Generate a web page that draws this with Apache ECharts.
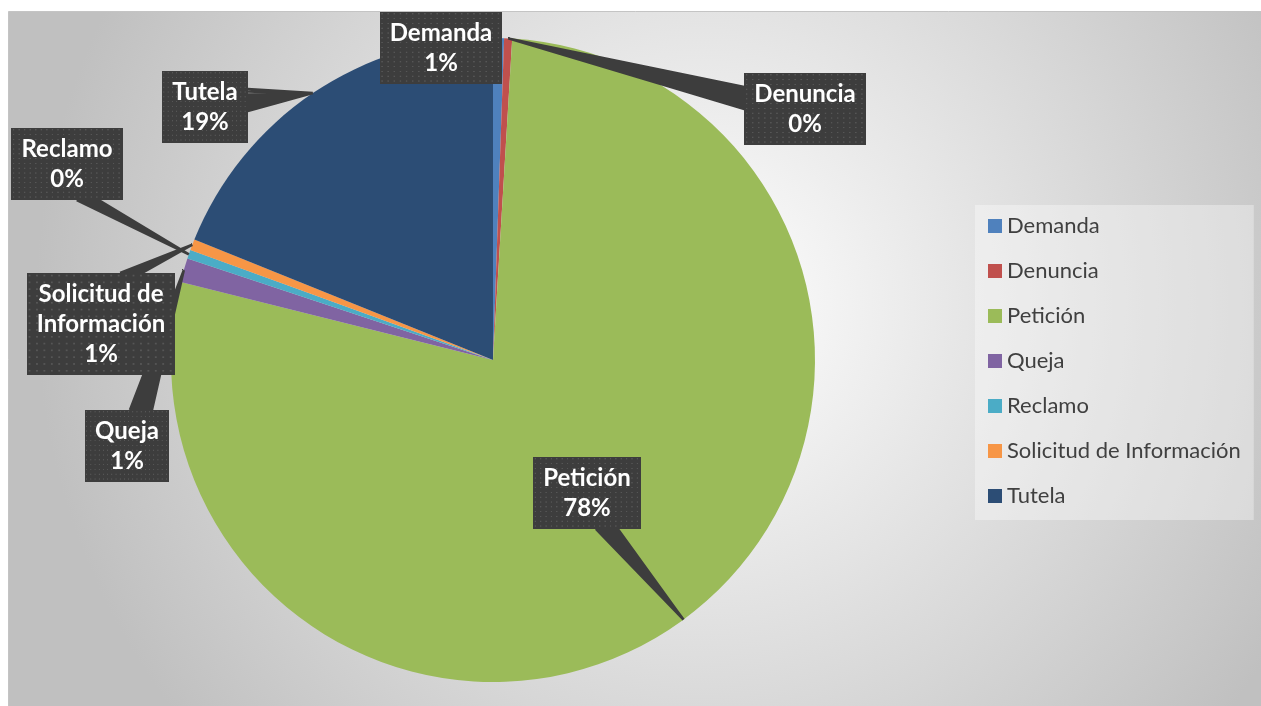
<!DOCTYPE html>
<html>
<head>
<meta charset="utf-8">
<script src="https://cdn.jsdelivr.net/npm/echarts@6/dist/echarts.min.js"></script>
<style>
html, body { margin: 0; padding: 0; background: #fff; }
#chart { width: 1261px; height: 706px; }
</style>
</head>
<body>
<div id="chart"></div>
<script>
// data
const categories = ['Demanda', 'Denuncia', 'Petición', 'Queja', 'Reclamo', 'Solicitud de Información', 'Tutela'];
const counts = [11, 8, 1559, 24, 9, 11, 378];
const colors = ['#4f81bd', '#c0504d', '#9bbb59', '#8064a2', '#4bacc6', '#f79646', '#2c4d75'];

// where each callout box sits (centre, px)
const calloutPos = {
    'Demanda': [441, 48],
    'Denuncia': [805, 109],
    'Petición': [587, 493],
    'Queja': [127, 446],
    'Reclamo': [67, 164],
    'Solicitud de Información': [101, 324],
    'Tutela': [205, 107]
};

const total = counts.reduce((a, b) => a + b, 0);
const labelFont = 'bold 24px Lato';
const lineH = 30;
const padV = 6, padH = 10;

function labelText (i) {
    let pct = Math.round(counts[i] / total * 100);
    return categories[i].replace('Solicitud de ', 'Solicitud de\n') + '\n' + pct + '%';
}

let measureCtx = document.createElement('canvas').getContext('2d');
function boxSize (i) {
    measureCtx.font = labelFont;
    let lines = labelText(i).split('\n');
    let w = 0;
    lines.forEach(l => { w = Math.max(w, measureCtx.measureText(l).width); });
    return [w + padH * 2, lines.length * lineH + padV * 2];
}

// dotted dark fill for the callouts
function dotPattern () {
    let c = document.createElement('canvas');
    c.width = 160; c.height = 120;
    let ctx = c.getContext('2d');
    ctx.fillStyle = '#3d3d3d';
    ctx.fillRect(0, 0, c.width, c.height);
    ctx.fillStyle = '#565656';
    for (let y = 2; y < c.height; y += 8) {
        for (let x = 2; x < c.width; x += 8) {
            ctx.fillRect(x, y, 2, 2);
        }
    }
    return c;
}

// wedge pointer: zigzag polyline from tip to a short base on the box edge
function wedgePoints (tip, cx, cy, w, h) {
    let x0 = cx - w / 2, x1 = cx + w / 2, y0 = cy - h / 2, y1 = cy + h / 2;
    let tx = tip[0], ty = tip[1];
    if (tx >= x0 && tx <= x1 && ty >= y0 && ty <= y1) {
        return [[cx, cy], [cx, cy]];
    }
    let ox = tx < x0 ? (x0 - tx) : (tx > x1 ? tx - x1 : 0);
    let oy = ty < y0 ? (y0 - ty) : (ty > y1 ? ty - y1 : 0);
    let half = 11;
    let a, b;
    if (ox / (w / 2) > oy / (h / 2)) {
        let ex = tx < x0 ? x0 : x1;
        let c = Math.min(Math.max(ty, y0 + 14), y1 - 14);
        c = cy + 0.5 * (c - cy);
        a = [ex, c - half]; b = [ex, c + half];
    } else {
        let ey = ty < y0 ? y0 : y1;
        let c = Math.min(Math.max(tx, x0 + 14), x1 - 14);
        c = cx + 0.5 * (c - cx);
        a = [c - half, ey]; b = [c + half, ey];
    }
    let pts = [];
    let n = 14;
    for (let k = 0; k <= n; k++) {
        let t = k / n;
        pts.push([tx, ty]);
        pts.push([a[0] + (b[0] - a[0]) * t, a[1] + (b[1] - a[1]) * t]);
    }
    return pts;
}

let myc = echarts.init(document.getElementById('chart'));

let pieData = categories.map((c, i) => ({ name: c, value: counts[i] }));

let options = {
    backgroundColor: '#ffffff',
    animation: false,
    graphic: [
        {
            type: 'rect',
            z: -10,
            shape: { x: 8.5, y: 11.5, width: 1260, height: 700 },
            style: {
                fill: new echarts.graphic.RadialGradient(0.55, 0.42, 0.95, [
                    { offset: 0, color: '#ffffff' },
                    { offset: 1, color: '#c0c0c0' }
                ]),
                stroke: '#c4c4c4',
                lineWidth: 1
            }
        }
    ],
    legend: {
        orient: 'vertical',
        left: 975,
        top: 205,
        padding: [10, 13, 13, 13],
        backgroundColor: 'rgba(255,255,255,0.35)',
        itemWidth: 14,
        itemHeight: 14,
        itemGap: 23,
        icon: 'rect',
        data: categories,
        textStyle: {
            fontFamily: 'Lato',
            fontSize: 22,
            lineHeight: 22,
            color: '#404040'
        }
    },
    series: [
        { // slices
            type: 'pie',
            center: [493, 360],
            radius: 322,
            startAngle: 90,
            clockwise: true,
            color: colors,
            itemStyle: { borderWidth: 0 },
            label: { show: false },
            labelLine: { show: false },
            data: pieData
        },
        { // callouts, drawn over the slices
            type: 'pie',
            z: 5,
            silent: true,
            legendHoverLink: false,
            center: [493, 360],
            radius: 322,
            startAngle: 90,
            clockwise: true,
            avoidLabelOverlap: false,
            itemStyle: { color: 'rgba(0,0,0,0)', borderWidth: 0 },
            label: {
                show: true,
                position: 'outside',
                formatter: function (p) {
                    return labelText(p.dataIndex);
                },
                fontFamily: 'Lato',
                fontWeight: 'bold',
                fontSize: 24,
                lineHeight: lineH,
                color: '#ffffff',
                align: 'center',
                padding: [padV, padH],
                backgroundColor: { image: dotPattern() }
            },
            labelLine: {
                show: true,
                length: 10,
                length2: 10,
                lineStyle: { color: '#3d3d3d', width: 2.5 }
            },
            labelLayout: function (params) {
                let i = params.dataIndex;
                let pos = calloutPos[categories[i]];
                let size = boxSize(i);
                let res = { x: pos[0], y: pos[1], align: 'center', verticalAlign: 'middle' };
                let pts = params.labelLinePoints;
                if (pts && pts.length) {
                    res.labelLinePoints = wedgePoints(pts[0], pos[0], pos[1], size[0], size[1]);
                }
                return res;
            },
            data: pieData
        }
    ]
};
myc.setOption(options);
</script>
</body>
</html>
